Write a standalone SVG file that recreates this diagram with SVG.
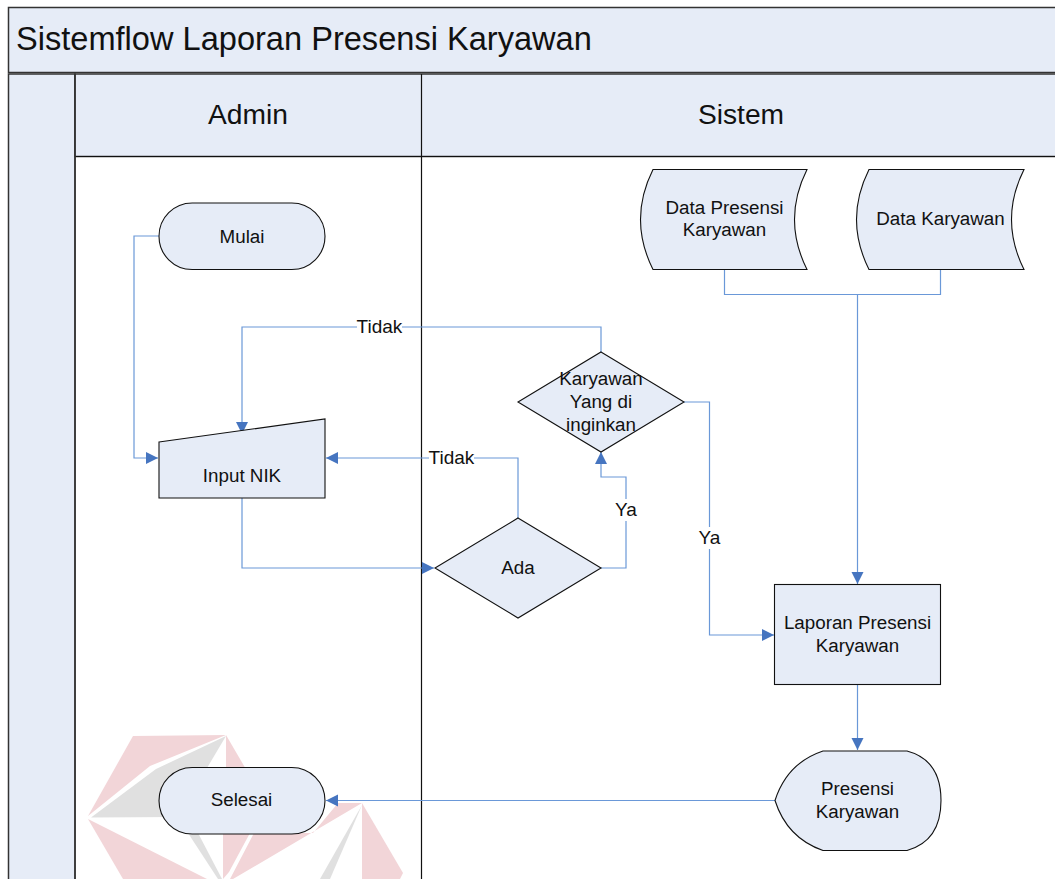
<svg xmlns="http://www.w3.org/2000/svg" width="1055" height="879" viewBox="0 0 1055 879">
<style>
text{font-family:"Liberation Sans",Arial,sans-serif;fill:#111;text-anchor:middle}
.n{font-size:18.8px}
.l{font-size:19px}
.h{font-size:28.2px}
.s{fill:#e6ecf7;stroke:#111;stroke-width:1.1}
.b{fill:#e6ecf7;stroke:#333;stroke-width:1.5}
.c{fill:none;stroke:#6a98d8;stroke-width:1.2}
.p{fill:#f2d5d8}.g{fill:#e0e0e0}
.bg{fill:#fff}
</style>
<defs><marker id="a" markerUnits="userSpaceOnUse" markerWidth="13" markerHeight="13" refX="12" refY="6" orient="auto"><path d="M0 0L12 6L0 12Z" fill="#4675c0"/></marker></defs>
<rect width="1055" height="879" fill="#fff"/>
<g id="pool">
<rect class="b" x="8.500" y="7.500" width="1060" height="65"/>
<rect class="b" x="8.500" y="74" width="66.500" height="820"/>
<rect class="b" x="75" y="74" width="1000" height="82.500"/>
<path d="M75 156.500H1055" stroke="#111" stroke-width="1.200"/>
<text x="16" y="50" font-size="32.600" style="text-anchor:start">Sistemflow Laporan Presensi Karyawan</text>
<text class="h" x="248" y="124">Admin</text>
<text class="h" x="741" y="124">Sistem</text>
</g>
<g id="watermark">
<path class="p" d="M133 736L226 735L150 766L88 816Z"/>
<path class="g" d="M226 736L156 769L91 817.500L180 817L207 768Z"/>
<path class="p" d="M226 735L247 771H226Z"/>
<path class="p" d="M88 819L207 879H123Z"/>
<path class="g" d="M188 833H198L222 879H218Z"/>
<path class="p" d="M223 879V833H250L229 872Z"/>
<path class="p" d="M230 879L254 833H313L338 803H362L233 879Z"/>
<path class="p" d="M362 803L403 873L400 879H362Z"/>
<path class="g" d="M362 805L320 879H330Z"/>
</g>
<g id="lane-lines">
<path d="M75 74V879" stroke="#333" stroke-width="1.500"/>
<path d="M421.500 74V879" stroke="#111" stroke-width="1.200"/>
</g>
<g id="connectors">
<path class="c" d="M159 236H134V458H158" marker-end="url(#a)"/>
<path class="c" d="M601 352V327H242V434" marker-end="url(#a)"/>
<path class="c" d="M518 518V458H326" marker-end="url(#a)"/>
<path class="c" d="M242 498V568H434" marker-end="url(#a)"/>
<path class="c" d="M601 568H626V477H601V452" marker-end="url(#a)"/>
<path class="c" d="M684 402H709.500V635H774" marker-end="url(#a)"/>
<path class="c" d="M724.500 269V294.500H940.500V269"/>
<path class="c" d="M857.500 294.500V584" marker-end="url(#a)"/>
<path class="c" d="M857.500 684V750" marker-end="url(#a)"/>
<path class="c" d="M775 800.500H326" marker-end="url(#a)"/>
<rect class="bg" x="357" y="318" width="45" height="18"/>
<rect class="bg" x="429" y="449" width="45" height="18"/>
<rect class="bg" x="614" y="499" width="24" height="22"/>
<rect class="bg" x="698" y="527" width="24" height="22"/>
<text class="l" x="379.500" y="333">Tidak</text>
<text class="l" x="451.500" y="464">Tidak</text>
<text class="l" x="626" y="516">Ya</text>
<text class="l" x="709.500" y="544">Ya</text>
</g>
<g id="mulai"><rect class="s" x="159" y="203" width="166" height="66.500" rx="33.200"/><text class="n" x="242" y="242.500">Mulai</text></g>
<g id="input-nik"><path class="s" d="M159 442L325 419V498H159Z"/><text class="n" x="242" y="481.500">Input NIK</text></g>
<g id="ada"><path class="s" d="M518 518L601 568L518 618L435 568Z"/><text class="n" x="518" y="574">Ada</text></g>
<g id="karyawan"><path class="s" d="M601 352L684 402L601 452L518 402Z"/><text class="n" x="601" y="385">Karyawan</text><text class="n" x="601" y="408">Yang di</text><text class="n" x="601" y="431">inginkan</text></g>
<g id="data-presensi"><path class="s" d="M653 169.500H807Q782 219.500 807 269.500H653Q628 219.500 653 169.500Z"/><text class="n" x="724.500" y="214">Data Presensi</text><text class="n" x="724.500" y="236">Karyawan</text></g>
<g id="data-karyawan"><path class="s" d="M869 169.500H1024Q999 219.500 1024 269.500H869Q844 219.500 869 169.500Z"/><text class="n" x="940.500" y="225">Data Karyawan</text></g>
<g id="laporan"><rect class="s" x="774.500" y="584.500" width="166" height="100"/><text class="n" x="857.500" y="629">Laporan Presensi</text><text class="n" x="857.500" y="652">Karyawan</text></g>
<g id="presensi"><path class="s" d="M775 800.500Q787 763 823 751H907Q941 760 941 800.500Q941 841 907 850.500H823Q787 838 775 800.500Z"/><text class="n" x="857.500" y="795">Presensi</text><text class="n" x="857.500" y="818">Karyawan</text></g>
<g id="selesai"><rect class="s" x="159" y="767.500" width="166" height="66.500" rx="33.200"/><text class="n" x="241.500" y="805.500">Selesai</text></g>
</svg>
